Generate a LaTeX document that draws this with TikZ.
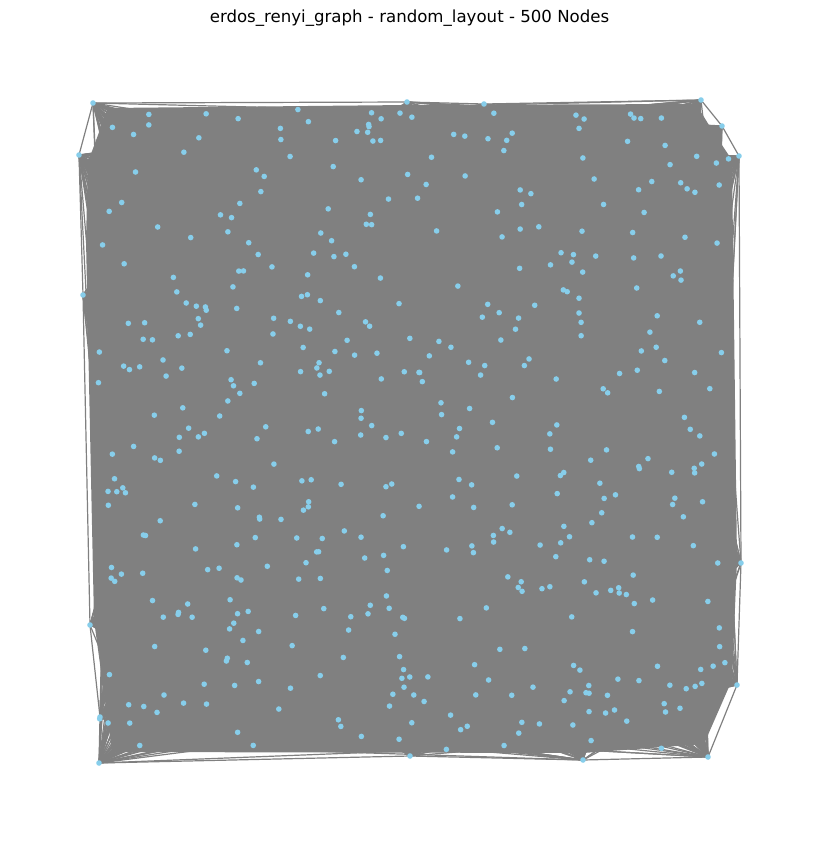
\documentclass[tikz,border=0pt]{standalone}
\usepackage{fontspec}
\setmainfont{DejaVu Sans}
\definecolor{skyblue}{HTML}{87CEEB}
\definecolor{edgegray}{HTML}{808080}
\tikzset{
  vertex/.style={circle, fill=skyblue, inner sep=0pt, minimum size=2.8pt},
  link/.style={draw=edgegray, line width=0.6pt},
}
\begin{document}
\begin{tikzpicture}[x=0.5pt, y=-0.5pt]
  \useasboundingbox (0,0) rectangle (819,842);

  % Titel
  \node[font=\fontsize{8.3}{10}\selectfont] (title) at (409.5,18)
    {erdos\_renyi\_graph - random\_layout - 500 Nodes};

  % Randknoten
  \foreach \i/\x/\y in {1/93/103, 2/407/102, 3/701/100, 4/722/126,
      5/739/156, 6/741/563, 7/737/685, 8/708/757, 9/583/760, 10/410/756,
      11/99/763, 12/100/717, 13/90/625, 14/83/295, 15/79/155, 16/484/104}
    \coordinate (v\i) at (\x,\y);

  % Zufaellige Knoten
  \pgfmathsetseed{500}
  \foreach \i in {17,...,500} {
    \pgfmathsetmacro\px{96+634*rnd}
    \pgfmathsetmacro\py{108+642*rnd}
    \pgfmathsetmacro\py{(\px>696 && \py<150) ? \py+45 : \py}
    \pgfmathsetmacro\py{(\px>700 && \py>690) ? \py-70 : \py}
    \coordinate (v\i) at (\px,\py);
  }

  % Dichte Kantenmasse
  \fill[edgegray] (108,108) -- (407,105) -- (696,104) -- (712,130)
    -- (732,160) -- (737,560) -- (732,680) -- (704,744) -- (583,753)
    -- (112,752) -- (94,620) -- (86,240) -- (88,162) -- cycle;

  % Kanten vom Rand
  \foreach \h in {1,...,16} {
    \foreach \k in {1,...,55} {
      \pgfmathrandominteger{\b}{17}{500}
      \draw[link] (v\h) -- (v\b);
    }
  }
  \foreach \a/\b in {1/2, 2/16, 16/3, 3/4, 4/5, 5/6, 6/7, 7/8, 8/9,
      9/10, 10/11, 11/12, 12/13, 13/14, 14/15, 15/1, 3/15, 11/5, 1/8}
    \draw[link] (v\a) -- (v\b);

  % Knoten
  \foreach \i in {1,...,500}
    \node[vertex] (dot\i) at (v\i) {};
\end{tikzpicture}
\end{document}
